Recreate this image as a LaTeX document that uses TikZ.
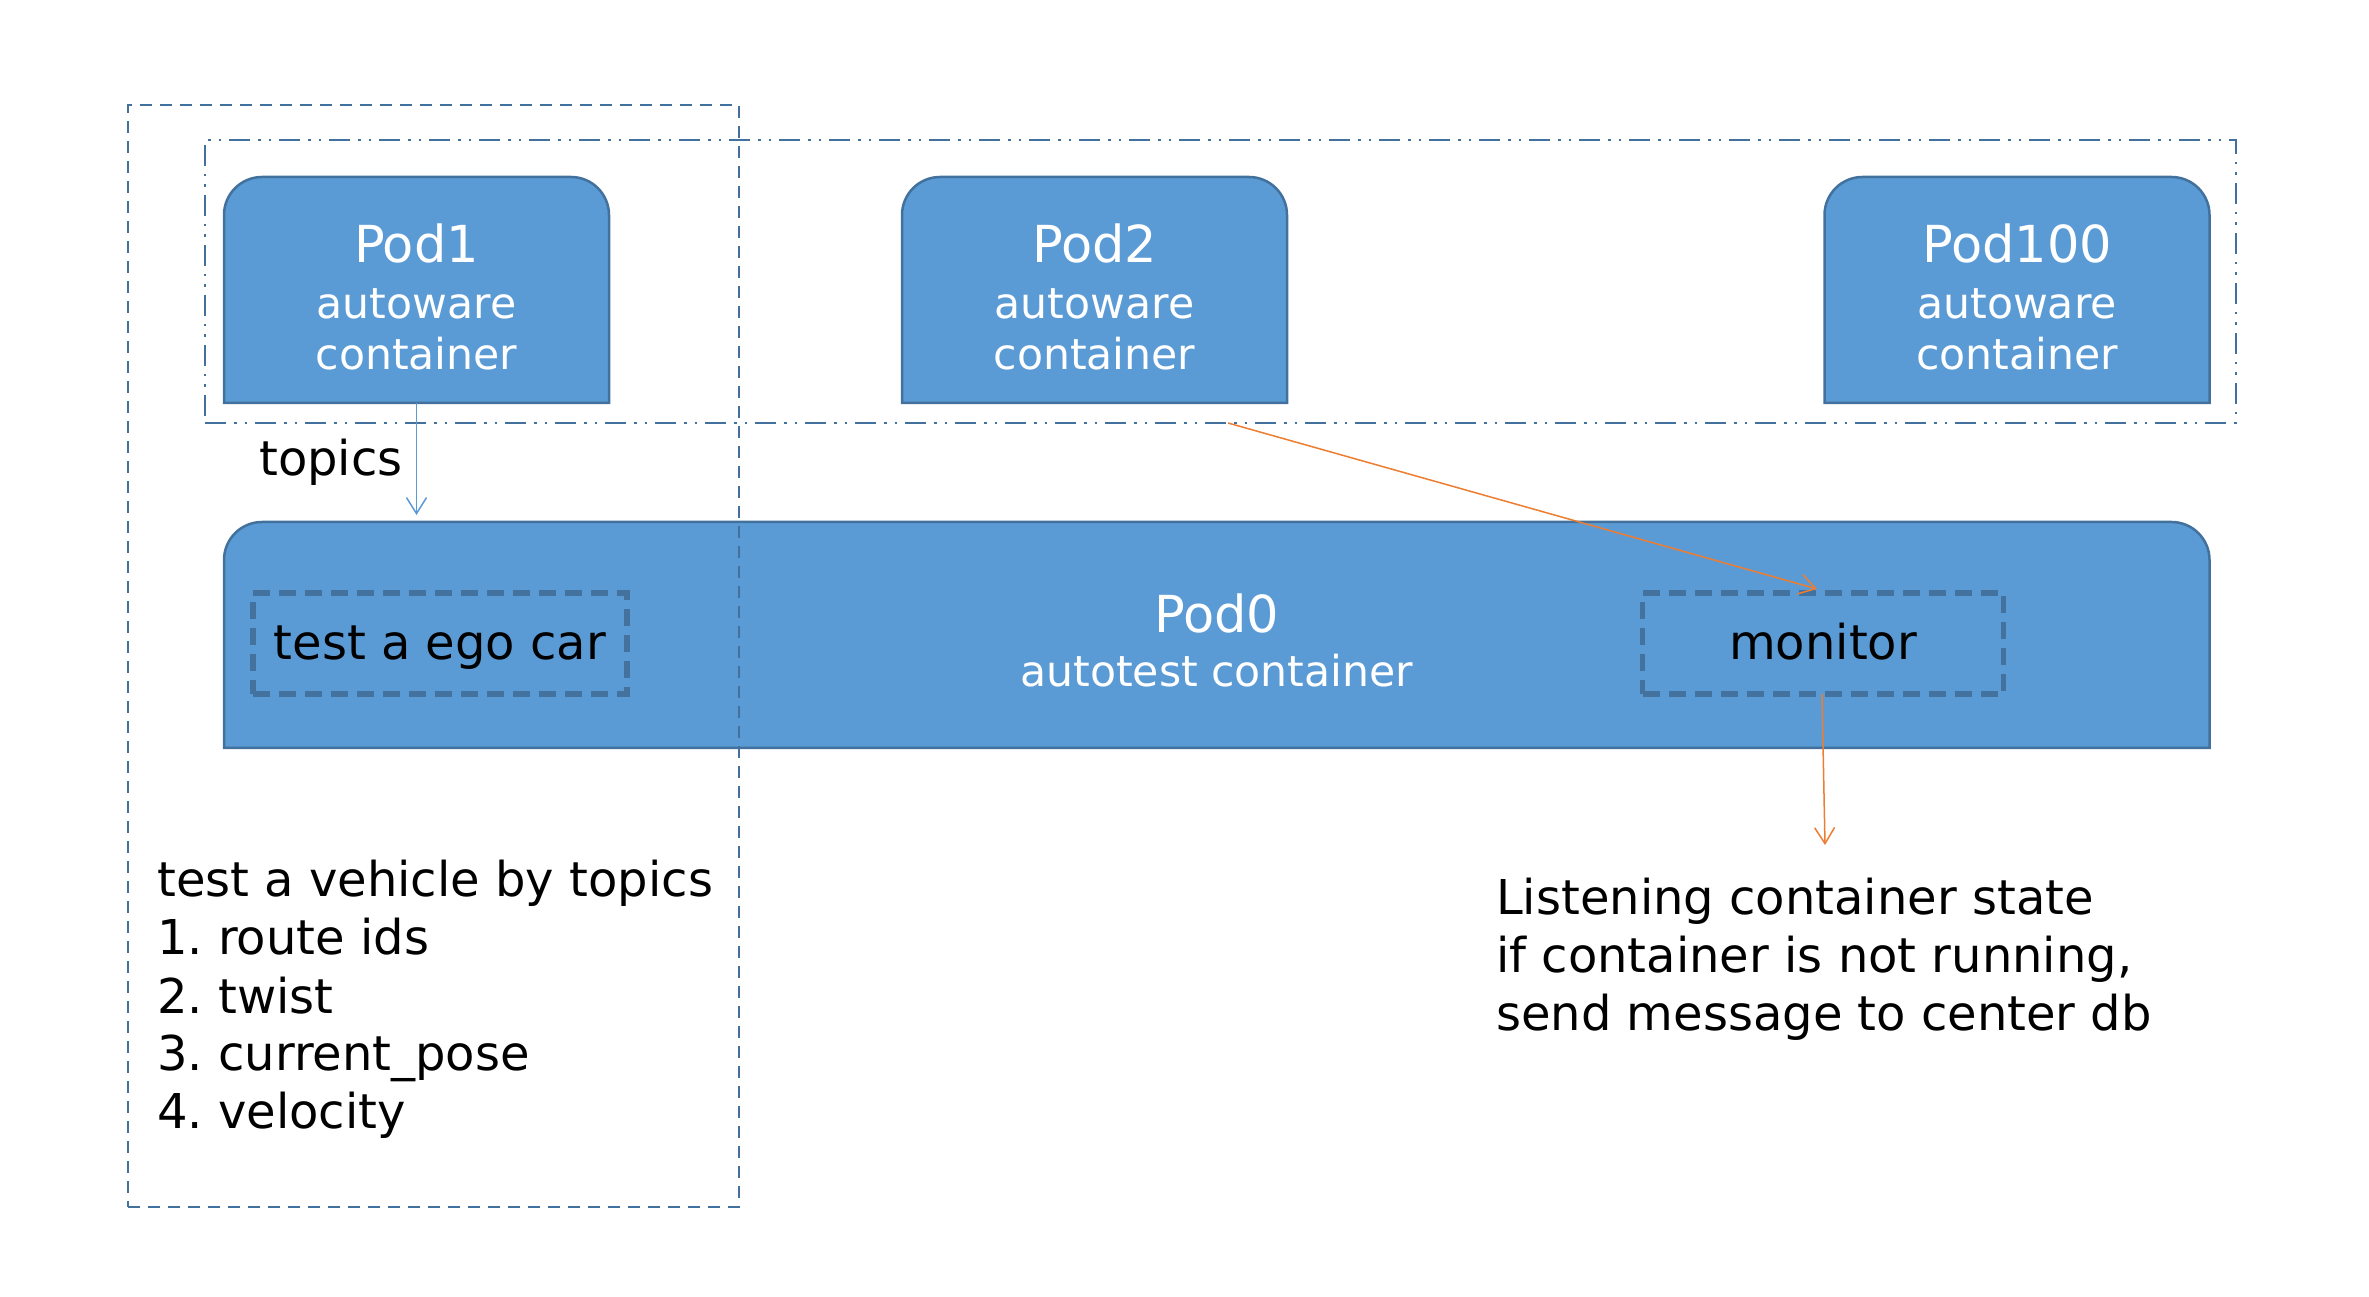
\documentclass[tikz,border=0pt]{standalone}
\usepackage{fontspec}
\setmainfont{DejaVu Sans}
\usetikzlibrary{arrows.meta,calc}
\definecolor{podfill}{HTML}{5B9BD5}
\definecolor{podedge}{HTML}{41719C}
\definecolor{grpline}{HTML}{41719C}
\definecolor{innerdash}{HTML}{44729E}
\definecolor{orangeline}{HTML}{ED7D31}
\definecolor{topicline}{HTML}{5B9BD5}
\newcommand{\podshape}[1]{\path[podpath] (#1.south west) -- ([yshift=-38pt]#1.north west) arc[start angle=180,end angle=90,radius=38pt] -- ([xshift=-38pt]#1.north east) arc[start angle=90,end angle=0,radius=38pt] -- (#1.south east) -- cycle;}
\frenchspacing
\begin{document}
\begin{tikzpicture}[x=1pt,y=1pt,
 podbox/.style={minimum width=385pt,minimum height=226pt,inner sep=0pt,outer sep=0pt},
 podpath/.style={fill=podfill,draw=podedge,line width=2.5pt},
 podtext/.style={text=white,align=center,inner sep=0pt,font=\fontsize{42.6}{51.8}\selectfont},
 grpdash/.style={draw=grpline,line width=2pt,dash pattern=on 12pt off 8pt,inner sep=0pt,outer sep=0pt},
 grpdashdot/.style={draw=grpline,line width=2pt,dash pattern=on 21pt off 8pt on 2.5pt off 8pt on 2.5pt off 8pt,inner sep=0pt,outer sep=0pt},
 innerbox/.style={draw=innerdash,line width=5.5pt,dash pattern=on 17pt off 9pt,minimum height=101pt,inner sep=0pt,outer sep=0pt,text height=40pt,text depth=7pt,font=\fontsize{48}{57.5}\selectfont},
 plainlabel/.style={text=black,inner sep=0pt,align=left,font=\fontsize{48}{58}\selectfont\frenchspacing},
 barb/.style={-{Straight Barb[length=16pt,width=20pt]}},
]
\useasboundingbox (0,0) rectangle (2369,1296);
% pods
\node[podbox] (P1) at (416.5,1006) {};
\node[podbox] (P2) at (1094.5,1006) {};
\node[podbox] (P100) at (2017,1006) {};
\node[podbox,minimum width=1985.5pt] (P0) at (1216.75,661) {};
\podshape{P1}
\podshape{P2}
\podshape{P100}
\podshape{P0}
\node[podtext,anchor=base] (P1t) at ([yshift=-193pt]P1.north) {{\fontsize{51}{51}\selectfont Pod1}\\[4pt]autoware\\container};
\node[podtext,anchor=base] (P2t) at ([yshift=-193pt]P2.north) {{\fontsize{51}{51}\selectfont Pod2}\\[4pt]autoware\\container};
\node[podtext,anchor=base] (P100t) at ([yshift=-193pt]P100.north) {{\fontsize{51}{51}\selectfont Pod100}\\[4pt]autoware\\container};
\node[podtext,anchor=base] (P0t) at ([yshift=-165pt]P0.north) {{\fontsize{51}{51}\selectfont Pod0}\\[2.2pt]autotest container};
% inner dashed boxes
\node[innerbox,minimum width=374pt] (ego) at (440,652.5) {test a ego car};
\node[innerbox,minimum width=361pt] (mon) at (1823,652.5) {monitor};
% group boxes
\node[grpdash,minimum width=611pt,minimum height=1102pt] (grpA) at (433.5,640) {};
\node[grpdashdot,minimum width=2031pt,minimum height=283pt] (grpB) at (1220.5,1014.5) {};
% labels
\node[plainlabel,anchor=base west] (topics) at (259,820) {topics};
\node[plainlabel,anchor=base west] (vehtext) at (157,167) {test a vehicle by topics\\1. route ids\\2. twist\\3. current\_pose\\4. velocity};
\node[plainlabel,anchor=base west] (listen) at (1496,265) {Listening container state\\if container is not running,\\send message to center db};
% connectors
\coordinate (dbend) at (1825,451);
\draw[barb,draw=topicline,line width=1.5pt] (P1.south) -- ($(P1.south |- P0.north)+(0,7)$);
\draw[barb,draw=orangeline,line width=1.5pt] ($(grpB.south west)+(1023,0)$) -- ($(mon.north)+(-6,4)$);
\draw[barb,draw=orangeline,line width=1.5pt] ($(mon.south)+(-1,0)$) -- (dbend);
\end{tikzpicture}
\end{document}
